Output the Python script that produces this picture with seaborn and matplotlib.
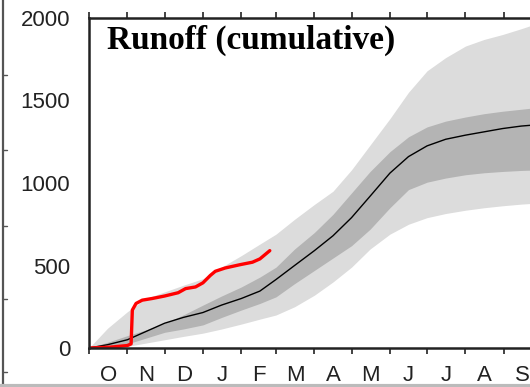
import matplotlib
matplotlib.use("Agg")
import matplotlib.pyplot as plt
from matplotlib.lines import Line2D
from matplotlib.ticker import FixedLocator, MultipleLocator, NullFormatter
import numpy as np
import pandas as pd
import seaborn as sns

# Day of water year (1 Oct = 0) at which the climatology is sampled
clim_days = [0, 15, 31, 46, 61, 76, 92, 107, 123, 138, 151, 166, 182, 197,
             212, 227, 243, 258, 273, 288, 304, 319, 334, 349, 365]
# Cumulative runoff climatology
median = [0, 20, 50, 100, 150, 185, 215, 260, 300, 345, 415, 500, 590, 680,
          790, 920, 1060, 1160, 1225, 1265, 1290, 1310, 1330, 1345, 1355]
inner_lo = [0, 5, 25, 60, 95, 115, 140, 185, 230, 270, 310, 390, 470, 545,
            620, 720, 850, 960, 1005, 1030, 1050, 1062, 1070, 1076, 1080]
inner_hi = [0, 35, 75, 110, 150, 200, 260, 315, 370, 430, 490, 600, 700, 810,
            940, 1070, 1190, 1280, 1340, 1375, 1400, 1420, 1435, 1447, 1460]
outer_lo = [0, 0, 10, 30, 50, 70, 90, 115, 145, 175, 200, 250, 320, 400,
            490, 600, 690, 750, 790, 815, 835, 850, 862, 872, 880]
outer_hi = [0, 120, 220, 300, 340, 380, 420, 490, 560, 630, 690, 780, 870, 950,
            1080, 1230, 1390, 1550, 1680, 1760, 1830, 1870, 1900, 1935, 1975]

# Current season so far
obs_days = [0, 17, 31, 34, 35, 38, 43, 51, 61, 72, 78, 86, 92, 98, 102, 110,
            122, 132, 138, 146]
obs_runoff = [0, 5, 15, 25, 230, 270, 290, 300, 315, 335, 360, 370, 395, 440,
              465, 485, 505, 520, 540, 590]

months = ["O", "N", "D", "J", "F", "M", "A", "M", "J", "J", "A", "S"]
month_len = [31, 30, 31, 31, 28, 31, 30, 31, 30, 31, 31, 30]
y_ticks = [0, 500, 1000, 1500, 2000]

clim = pd.DataFrame({"day": clim_days, "median": median})
obs = pd.DataFrame({"day": obs_days, "runoff": obs_runoff})

sns.set_style("white")
plt.rcParams["font.family"] = ["Liberation Sans", "DejaVu Sans"]

W, H = 530, 387
fig = plt.figure(figsize=(W / 100, H / 100), dpi=100)
ax = fig.add_axes([89 / W, 39 / H, 452 / W, 330 / H])

ax.fill_between(clim_days, outer_lo, outer_hi, color="#dcdcdc", lw=0)
ax.fill_between(clim_days, inner_lo, inner_hi, color="#b4b4b4", lw=0)
sns.lineplot(data=clim, x="day", y="median", ax=ax, color="black", lw=1.0)
sns.lineplot(data=obs, x="day", y="runoff", ax=ax, color="#ff0000", lw=2.4)

ax.set_xlim(0, 365)
ax.set_ylim(0, 2000)
ax.set_xlabel("")
ax.set_ylabel("")

# month boundaries as ticks, month initials centred between them
bounds = np.concatenate([[0], np.cumsum(month_len)])
mids = (bounds[:-1] + bounds[1:]) / 2
ax.xaxis.set_major_locator(FixedLocator(bounds[:-1]))
ax.xaxis.set_major_formatter(NullFormatter())
ax.xaxis.set_minor_locator(FixedLocator(mids))
ax.set_xticklabels(months, minor=True)
ax.tick_params(axis="x", which="major", direction="out", length=4, width=1.2,
               color="#222222", top=True, bottom=True)
ax.tick_params(axis="x", which="minor", length=0, pad=12, labelsize=16,
               labelcolor="#222222")

ax.set_yticks(y_ticks)
ax.yaxis.set_minor_locator(MultipleLocator(125))
ax.tick_params(axis="y", which="major", direction="out", length=4.5, width=1.2,
               color="#222222", pad=9, labelsize=16, labelcolor="#222222")
ax.tick_params(axis="y", which="minor", direction="out", length=2.5, width=1.0,
               color="#444444")

for side in ("left", "bottom", "top"):
    ax.spines[side].set_color("#222222")
    ax.spines[side].set_linewidth(1.8)
ax.spines["right"].set_visible(False)

ax.text(0.04, 0.932, "Runoff (cumulative)", transform=ax.transAxes,
        ha="left", va="center", fontsize=24, fontweight="bold",
        family=["Liberation Serif", "DejaVu Serif"], color="black")

# neighbouring panel edge on the left and frame strip at the bottom
fig.add_artist(Line2D([2.5 / W, 2.5 / W], [3 / H, 1], color="#555555", lw=1.6))
for yy in (75, 150, 226, 299, 372):
    fig.add_artist(Line2D([2.5 / W, 7 / W], [1 - yy / H, 1 - yy / H],
                          color="#555555", lw=1.0))
fig.add_artist(Line2D([0, 1], [1.5 / H, 1.5 / H], color="#bbbbbb", lw=3))

fig.savefig("out.png", dpi=100)
